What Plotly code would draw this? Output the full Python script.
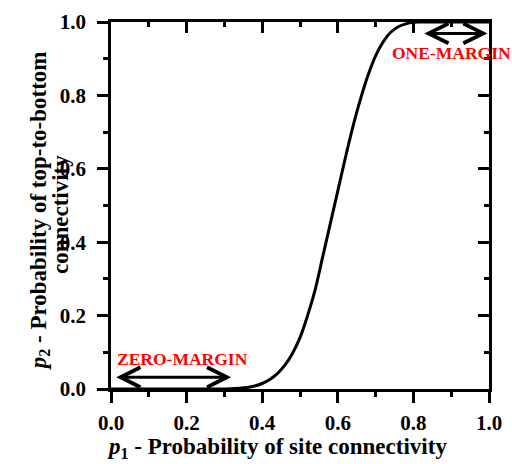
import plotly.graph_objects as go

# Data
p1 = [0.00, 0.10, 0.20, 0.30, 0.32, 0.34, 0.36, 0.38, 0.40, 0.42, 0.44, 0.46, 0.48,
      0.50, 0.52, 0.54, 0.56, 0.58, 0.60, 0.62, 0.64, 0.66, 0.68, 0.70, 0.72,
      0.74, 0.76, 0.78, 0.80, 0.82, 0.90, 1.00]
p2 = [0.000, 0.000, 0.000, 0.000, 0.001, 0.002, 0.004, 0.008, 0.015, 0.026, 0.042, 0.065, 0.097,
      0.140, 0.200, 0.270, 0.360, 0.450, 0.540, 0.630, 0.715, 0.790, 0.855, 0.908, 0.946,
      0.972, 0.987, 0.995, 0.999, 1.000, 1.000, 1.000]

zero_margin = [0.01, 0.318]
zero_margin_y = 0.032
one_margin = [0.825, 0.996]
one_margin_y = 0.969

x_ticks = [0.0, 0.2, 0.4, 0.6, 0.8, 1.0]
y_ticks = [0.0, 0.2, 0.4, 0.6, 0.8, 1.0]

FONT = "Liberation Serif"

fig = go.Figure()
fig.add_trace(go.Scatter(x=p1, y=p2, mode="lines", line=dict(color="black", width=3),
                         line_shape="spline", showlegend=False, hoverinfo="skip"))
# invisible trace on mirrored axes so they render
fig.add_trace(go.Scatter(x=[0, 1], y=[0, 1], xaxis="x2", yaxis="y2", mode="markers",
                         marker=dict(opacity=0), showlegend=False, hoverinfo="skip"))

tickfont = dict(family=FONT, size=21, color="black", weight="bold")
common = dict(range=[0, 1], showgrid=False, zeroline=False, showline=True,
              linecolor="black", linewidth=2.5, tickwidth=2.5, tickcolor="black",
              ticklabeloverflow="allow")

fig.update_layout(
    width=512, height=464,
    margin=dict(l=111, r=21, t=10, b=75, pad=0),
    paper_bgcolor="white", plot_bgcolor="white",
    xaxis=dict(**common, tickvals=x_ticks, ticktext=[f"{v:.1f}" for v in x_ticks],
               ticks="outside", ticklen=11, tickfont=tickfont, ticklabelstandoff=2,
               minor=dict(dtick=0.1, ticks="outside", ticklen=5, tickwidth=2.5, tickcolor="black")),
    yaxis=dict(**common, tickvals=y_ticks, ticktext=[f"{v:.1f}" for v in y_ticks],
               ticks="outside", ticklen=11, tickfont=tickfont, ticklabelstandoff=7,
               minor=dict(dtick=0.1, ticks="outside", ticklen=5, tickwidth=2.5, tickcolor="black")),
    xaxis2=dict(**common, overlaying="x", side="top", anchor="y", tickvals=x_ticks,
                ticks="inside", ticklen=11, showticklabels=False,
                minor=dict(dtick=0.1, ticks="inside", ticklen=5, tickwidth=2.5, tickcolor="black")),
    yaxis2=dict(**common, overlaying="y", side="right", anchor="x", tickvals=y_ticks,
                ticks="inside", ticklen=11, showticklabels=False,
                minor=dict(dtick=0.1, ticks="inside", ticklen=5, tickwidth=2.5, tickcolor="black")),
)

arrow_common = dict(xref="x", yref="y", axref="x", ayref="y", text="", showarrow=True,
                    arrowhead=5, startarrowhead=5, arrowside="end+start", arrowsize=1.3,
                    startarrowsize=1.3, arrowwidth=3, arrowcolor="black", standoff=0, startstandoff=0)
fig.add_annotation(x=zero_margin[1], y=zero_margin_y, ax=zero_margin[0], ay=zero_margin_y, **arrow_common)
fig.add_annotation(x=one_margin[1], y=one_margin_y, ax=one_margin[0], ay=one_margin_y, **arrow_common)

label_font = dict(family=FONT, size=17.5, color="red", weight="bold")
fig.add_annotation(x=0.19, y=0.082, xref="x", yref="y", text="ZERO-MARGIN", showarrow=False,
                   font=label_font, xanchor="center", yanchor="middle")
fig.add_annotation(x=0.90, y=0.915, xref="x", yref="y", text="ONE-MARGIN", showarrow=False,
                   font=label_font, xanchor="center", yanchor="middle")

title_font = dict(family=FONT, size=23, color="black", weight="bold")
fig.add_annotation(x=(278 - 111) / 380.5, y=-(450 - 389) / 379, xref="paper", yref="paper",
                   text="<i>p</i><sub>1</sub> - Probability of site connectivity",
                   showarrow=False, font=title_font, xanchor="center", yanchor="middle")
fig.add_annotation(x=-(111 - 39) / 380.5, y=(389 - 205) / 379, xref="paper", yref="paper",
                   text="<i>p</i><sub>2</sub> - Probability of top-to-bottom",
                   showarrow=False, font=title_font, textangle=-90, xanchor="center", yanchor="middle")
fig.add_annotation(x=-(111 - 60) / 380.5, y=(389 - 209) / 379, xref="paper", yref="paper",
                   text="connectivity",
                   showarrow=False, font=title_font, textangle=-90, xanchor="center", yanchor="middle")

fig.write_html("out.html", config={"displayModeBar": False},
               post_script="document.body.style.margin='0';document.body.style.padding='0';")
